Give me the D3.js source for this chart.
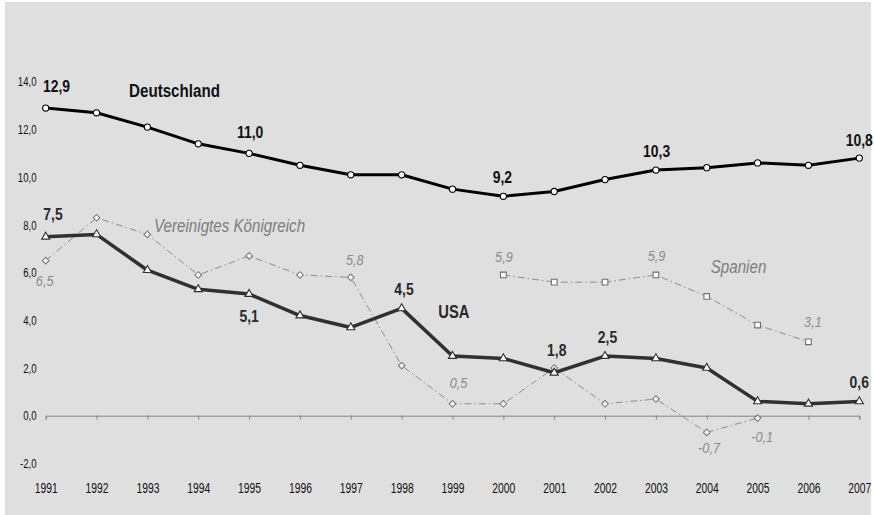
<!DOCTYPE html>
<html lang="de">
<head>
<meta charset="utf-8">
<script src="https://cdn.jsdelivr.net/npm/d3@7"></script>
<style>
  html, body { margin: 0; padding: 0; background: #ffffff; }
  svg { display: block; }
  svg text { font-family: "Liberation Sans", Arial, sans-serif; }
</style>
</head>
<body>
<svg id="chart" width="874" height="515"></svg>
<script>
// Arbeitslosenquote / Werte in Prozent, 1991–2007
const years = d3.range(1991, 2008);
const deutschland = [12.9, 12.7, 12.1, 11.4, 11.0, 10.5, 10.1, 10.1, 9.5, 9.2, 9.4, 9.9, 10.3, 10.4, 10.6, 10.5, 10.8];
const usa         = [7.5, 7.6, 6.1, 5.3, 5.1, 4.2, 3.7, 4.5, 2.5, 2.4, 1.8, 2.5, 2.4, 2.0, 0.6, 0.5, 0.6];
const ukYears     = d3.range(1991, 2006);
const uk          = [6.5, 8.3, 7.6, 5.9, 6.7, 5.9, 5.8, 2.1, 0.5, 0.5, 2.0, 0.5, 0.7, -0.7, -0.1];
const spainYears  = d3.range(2000, 2007);
const spain       = [5.9, 5.6, 5.6, 5.9, 5.0, 3.8, 3.1];
const yTicks      = [-2, 0, 2, 4, 6, 8, 10, 12, 14];

const width = 874, height = 515;
const NARROW = 0.82;      // horizontal squeeze giving a condensed sans face
const AXIS_NARROW = 0.74; // axis numbers are set a little tighter still
const svg = d3.select("#chart");

// German number format: decimal comma, plain hyphen as minus sign
const de = d3.formatLocale({ decimal: ",", thousands: ".", grouping: [3], currency: ["", " €"], minus: "-" });
const fmt = de.format(".1f");

const x = d3.scaleLinear().domain([1991, 2007]).range([45.7, 859.3]);
const y = d3.scaleLinear().domain([-2, 14]).range([463.4, 81.8]);

// panel background
svg.append("rect")
  .attr("x", 5).attr("y", 2).attr("width", 866).attr("height", height - 2)
  .attr("fill", "#dfdfdf");

// y axis labels only
const yAxis = svg.append("g")
  .attr("transform", "translate(36.5,0)")
  .call(d3.axisLeft(y).tickValues(yTicks).tickSize(0).tickPadding(0).tickFormat(fmt));
yAxis.select(".domain").remove();
yAxis.selectAll("text")
  .attr("font-size", 13).attr("fill", "#111").attr("font-family", null)
  .attr("transform", `scale(${AXIS_NARROW},1)`);

// zero line with year ticks
const xAxis = svg.append("g")
  .attr("transform", `translate(0,${y(0)})`)
  .call(d3.axisBottom(x).tickValues(years).tickSize(4).tickSizeOuter(4).tickFormat(""));
xAxis.select(".domain").attr("stroke", "#858585").attr("stroke-width", 1);
xAxis.selectAll(".tick line").attr("stroke", "#858585");

// year labels along the bottom
const xLabels = svg.append("g")
  .attr("transform", "translate(0,483.5)")
  .call(d3.axisBottom(x).tickValues(years).tickSize(0).tickPadding(0).tickFormat(d3.format("d")));
xLabels.select(".domain").remove();
xLabels.selectAll("text")
  .attr("font-size", 14).attr("fill", "#111").attr("font-family", null)
  .attr("transform", `scale(${AXIS_NARROW},1)`);

// small diamond: a square turned by 45 degrees
const smallDiamond = {
  draw(context, size) {
    const r = Math.sqrt(size / 2);
    context.moveTo(0, -r);
    context.lineTo(r, 0);
    context.lineTo(0, r);
    context.lineTo(-r, 0);
    context.closePath();
  }
};

const series = [
  { name: "uk", yrs: ukYears, vals: uk, stroke: "#8c8c8c", width: 1, dash: "7,3,1.5,3",
    symbol: smallDiamond, size: 22, mstroke: "#7a7a7a" },
  { name: "spain", yrs: spainYears, vals: spain, stroke: "#8c8c8c", width: 1, dash: "7,3,1.5,3",
    symbol: d3.symbolSquare, size: 32, mstroke: "#6e6e6e" },
  { name: "usa", yrs: years, vals: usa, stroke: "#303030", width: 3.5, dash: null,
    symbol: d3.symbolTriangle, size: 28, mstroke: "#303030" },
  { name: "de", yrs: years, vals: deutschland, stroke: "#000000", width: 3, dash: null,
    symbol: d3.symbolCircle, size: 30, mstroke: "#000000" }
];

const line = d3.line().x(d => x(d[0])).y(d => y(d[1]));

series.forEach(s => {
  const pts = s.yrs.map((yr, i) => [yr, s.vals[i]]);
  svg.append("path")
    .datum(pts)
    .attr("d", line)
    .attr("fill", "none")
    .attr("stroke", s.stroke)
    .attr("stroke-width", s.width)
    .attr("stroke-linejoin", "round")
    .attr("stroke-dasharray", s.dash);
  svg.append("g").selectAll("path")
    .data(pts)
    .join("path")
    .attr("transform", d => `translate(${x(d[0])},${y(d[1])})`)
    .attr("d", d3.symbol().type(s.symbol).size(s.size))
    .attr("fill", "#ffffff")
    .attr("stroke", s.mstroke)
    .attr("stroke-width", 1.1);
});

// value annotations: which year of which series, and label offset from the point
const valueLabels = [
  { s: "de", yr: 1991, dx: -2.7, dy: -16.3, anchor: "start" },
  { s: "de", yr: 1995, dx: 1, dy: -15.3 },
  { s: "de", yr: 2000, dx: -1, dy: -13 },
  { s: "de", yr: 2003, dx: 0.7, dy: -13.3 },
  { s: "de", yr: 2007, dx: 0, dy: -12 },
  { s: "usa", yr: 1991, dx: -2.4, dy: -16.8, anchor: "start" },
  { s: "usa", yr: 1995, dx: 0, dy: 28.3 },
  { s: "usa", yr: 1998, dx: 2.4, dy: -13.4 },
  { s: "usa", yr: 2001, dx: 2.5, dy: -17 },
  { s: "usa", yr: 2002, dx: 2.4, dy: -13.3 },
  { s: "usa", yr: 2007, dx: 0, dy: -13 },
  { s: "uk", yr: 1991, dx: -1, dy: 25 },
  { s: "uk", yr: 1997, dx: 4, dy: -12.4 },
  { s: "uk", yr: 1999, dx: 6, dy: -15.5 },
  { s: "uk", yr: 2004, dx: 2.3, dy: 21 },
  { s: "uk", yr: 2005, dx: 4.5, dy: 23.6 },
  { s: "spain", yr: 2000, dx: 0.6, dy: -13.3 },
  { s: "spain", yr: 2003, dx: 0.7, dy: -14 },
  { s: "spain", yr: 2006, dx: 4.5, dy: -14.5 }
];
const labelStyle = {
  de:    { fill: "#111111", weight: "bold", style: "normal", size: 17 },
  usa:   { fill: "#2a2a2a", weight: "bold", style: "normal", size: 17 },
  uk:    { fill: "#8a8a8a", weight: "normal", style: "italic", size: 15.5 },
  spain: { fill: "#8a8a8a", weight: "normal", style: "italic", size: 15.5 }
};
const byName = Object.fromEntries(series.map(s => [s.name, s]));

svg.append("g")
  .selectAll("text")
  .data(valueLabels)
  .join("text")
  .each(function (d) {
    const s = byName[d.s];
    const v = s.vals[s.yrs.indexOf(d.yr)];
    const st = labelStyle[d.s];
    d3.select(this)
      .attr("transform", `translate(${x(d.yr) + d.dx},${y(v) + d.dy}) scale(${NARROW},1)`)
      .attr("text-anchor", d.anchor || "middle")
      .attr("font-size", st.size)
      .attr("font-weight", st.weight)
      .attr("font-style", st.style)
      .attr("fill", st.fill)
      .text(fmt(v));
  });

// series names
const names = [
  { text: "Deutschland", x: 129, y: 97.3, size: 18.5, st: { fill: "#111111", weight: "bold", style: "normal" } },
  { text: "USA", x: 438.3, y: 318.3, size: 18, st: { fill: "#2a2a2a", weight: "bold", style: "normal" } },
  { text: "Vereinigtes Königreich", x: 154, y: 231.7, size: 18.5, st: { fill: "#7c7c7c", weight: "normal", style: "italic" } },
  { text: "Spanien", x: 710.7, y: 273.3, size: 18.5, st: { fill: "#7c7c7c", weight: "normal", style: "italic" } }
];
svg.append("g")
  .selectAll("text")
  .data(names)
  .join("text")
  .attr("transform", d => `translate(${d.x},${d.y}) scale(${NARROW},1)`)
  .attr("font-size", d => d.size)
  .attr("font-weight", d => d.st.weight)
  .attr("font-style", d => d.st.style)
  .attr("fill", d => d.st.fill)
  .text(d => d.text);
</script>
</body>
</html>
